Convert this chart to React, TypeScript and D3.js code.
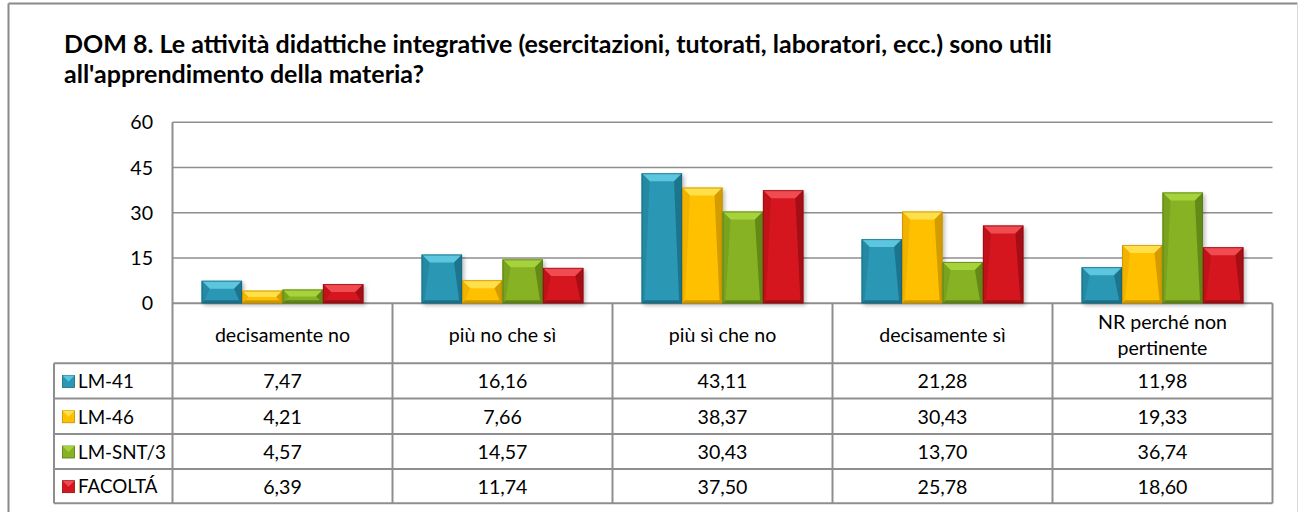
import React from "react";
import * as d3 from "d3";

const categories = ["decisamente no", "più no che sì", "più sì che no", "decisamente sì", "NR perché non pertinente"];
const categoryLines = [["decisamente no"], ["più no che sì"], ["più sì che no"], ["decisamente sì"], ["NR perché non", "pertinente"]];
const seriesNames = ["LM-41", "LM-46", "LM-SNT/3", "FACOLTÁ"];
const lm41 = [7.47, 16.16, 43.11, 21.28, 11.98];
const lm46 = [4.21, 7.66, 38.37, 30.43, 19.33];
const lmSnt3 = [4.57, 14.57, 30.43, 13.7, 36.74];
const facolta = [6.39, 11.74, 37.5, 25.78, 18.6];
const seriesValues = [lm41, lm46, lmSnt3, facolta];
const yTicks = [0, 15, 30, 45, 60];
const titleLines = [
  "DOM 8. Le attività didattiche integrative (esercitazioni, tutorati, laboratori, ecc.) sono utili",
  "all'apprendimento della materia?",
];

const palette = [
  { main: "#2A98B4", light: "#5CC6DF", dark: "#17667C", side: "#2589A3" },
  { main: "#FFC000", light: "#FFE04A", dark: "#C08D00", side: "#F2B200" },
  { main: "#86B224", light: "#A6D33C", dark: "#557812", side: "#79A31E" },
  { main: "#D5161E", light: "#EF4B51", dark: "#8E0C10", side: "#C21219" },
];

const FONT = "Lato, 'Open Sans', sans-serif";
const GRID = "#8E8E8E";
const BODY = 19.6;

function Bar({ x, y, w, h, c }: { x: number; y: number; w: number; h: number; c: typeof palette[0] }) {
  const b = Math.min(8, h / 2);
  const s = Math.min(3, h / 4);
  return (
    <g>
      <rect x={x + 2} y={y + 2} width={w} height={h} fill="#000" opacity={0.28} filter="url(#shadow)" />
      <rect x={x} y={y} width={w} height={h} fill={c.main} />
      <polygon points={`${x},${y} ${x + w},${y} ${x + w - b},${y + b} ${x + b},${y + b}`} fill={c.light} />
      <polygon points={`${x},${y} ${x + b},${y + b} ${x + s},${y + h - s} ${x},${y + h}`} fill={c.side} />
      <polygon points={`${x + w},${y} ${x + w},${y + h} ${x + w - s},${y + h - s} ${x + w - b},${y + b}`} fill={c.dark} opacity={0.7} />
      <polygon points={`${x},${y + h} ${x + s},${y + h - s} ${x + w - s},${y + h - s} ${x + w},${y + h}`} fill={c.dark} opacity={0.8} />
      <rect x={x + 0.5} y={y + 0.5} width={w - 1} height={h - 1} fill="none" stroke={c.dark} strokeWidth={1} opacity={0.7} />
    </g>
  );
}

export default function App() {
  const W = 1300;
  const H = 512;
  const plotLeft = 172.5;
  const plotRight = 1272.5;
  const plotTop = 122.3;
  const plotBottom = 303.3;
  const tableLeft = 54;
  const rowEdges = [363.3, 398.5, 434, 469, 503.3];

  const x0 = d3.scaleBand<string>().domain(categories).range([plotLeft, plotRight]).padding(0);
  const x1 = d3
    .scaleBand<string>()
    .domain(seriesNames)
    .range([0, x0.bandwidth()])
    .paddingInner(0)
    .paddingOuter(0.72);
  const y = d3.scaleLinear().domain([0, 60]).range([plotBottom, plotTop]);

  const fmt = (v: number) => v.toFixed(2).replace(".", ",");

  return (
    <svg width={W} height={H} style={{ position: "absolute", left: 0, top: 0, background: "#fff" }} fontFamily={FONT}>
      <defs>
        <filter id="shadow" x="-20%" y="-20%" width="140%" height="140%">
          <feGaussianBlur stdDeviation="2" />
        </filter>
      </defs>
      <rect x={0} y={0} width={W} height={H} fill="#fff" />
      {/* outer frame */}
      <line x1={8.5} y1={3.5} x2={1297.5} y2={3.5} stroke="#8A8A8A" strokeWidth={2} />
      <line x1={8.5} y1={3.5} x2={8.5} y2={H} stroke="#8A8A8A" strokeWidth={2} />
      <line x1={1297.5} y1={3.5} x2={1297.5} y2={H} stroke="#D8D8D8" strokeWidth={1} />

      {/* title */}
      {titleLines.map((t, i) => (
        <text key={i} x={64} y={53 + i * 29.7} fontSize={25} fontWeight={700} fill="#000">
          {t}
        </text>
      ))}

      {/* gridlines */}
      {yTicks.map((t) => (
        <g key={t}>
          <line x1={plotLeft} x2={plotRight} y1={y(t)} y2={y(t)} stroke={GRID} strokeWidth={t === 0 ? 2 : 1.6} />
          <text x={153} y={y(t)} dy="0.36em" textAnchor="end" fontSize={BODY} fill="#000">
            {t}
          </text>
        </g>
      ))}

      {/* bars */}
      {categories.map((cat, ci) =>
        seriesNames.map((s, si) => {
          const v = seriesValues[si][ci];
          const bx = (x0(cat) as number) + (x1(s) as number);
          const by = y(v);
          return <Bar key={cat + s} x={bx} y={by} w={x1.bandwidth()} h={plotBottom - by} c={palette[si]} />;
        })
      )}

      {/* table grid */}
      <line x1={plotLeft} x2={plotLeft} y1={plotTop} y2={rowEdges[4]} stroke={GRID} strokeWidth={2} />
      {categories.map((cat, ci) => (
        <line
          key={"v" + ci}
          x1={(x0(cat) as number) + x0.bandwidth()}
          x2={(x0(cat) as number) + x0.bandwidth()}
          y1={plotBottom}
          y2={rowEdges[4]}
          stroke={GRID}
          strokeWidth={2}
        />
      ))}
      <line x1={tableLeft} x2={tableLeft} y1={rowEdges[0]} y2={rowEdges[4]} stroke={GRID} strokeWidth={2} />
      {rowEdges.map((ry, i) => (
        <line key={"h" + i} x1={tableLeft} x2={plotRight} y1={ry} y2={ry} stroke={GRID} strokeWidth={2} />
      ))}

      {/* category headers */}
      {categoryLines.map((lines, ci) => {
        const cx = (x0(categories[ci]) as number) + x0.bandwidth() / 2;
        const mid = (plotBottom + rowEdges[0]) / 2 + 1.5;
        return (
          <text key={"c" + ci} x={cx} textAnchor="middle" fontSize={BODY} fill="#000">
            {lines.map((l, li) => (
              <tspan key={li} x={cx} y={mid + (li - (lines.length - 1) / 2) * 26} dy="0.36em">
                {l}
              </tspan>
            ))}
          </text>
        );
      })}

      {/* rows */}
      {seriesNames.map((s, si) => {
        const cy = (rowEdges[si] + rowEdges[si + 1]) / 2 + 0.5;
        const c = palette[si];
        const kx = 62.5;
        const ks = 12;
        const ky = cy - ks / 2;
        return (
          <g key={"r" + s}>
            <rect x={kx} y={ky} width={ks} height={ks} fill={c.main} stroke={c.dark} strokeWidth={0.8} />
            <polygon points={`${kx},${ky} ${kx + ks},${ky} ${kx + ks / 2},${ky + ks / 2}`} fill={c.light} />
            <text x={78} y={cy} dy="0.36em" fontSize={18.8} fill="#000">
              {s}
            </text>
            {categories.map((cat, ci) => (
              <text
                key={cat}
                x={(x0(cat) as number) + x0.bandwidth() / 2}
                y={cy}
                dy="0.36em"
                textAnchor="middle"
                fontSize={BODY}
                fill="#000"
              >
                {fmt(seriesValues[si][ci])}
              </text>
            ))}
          </g>
        );
      })}
    </svg>
  );
}
